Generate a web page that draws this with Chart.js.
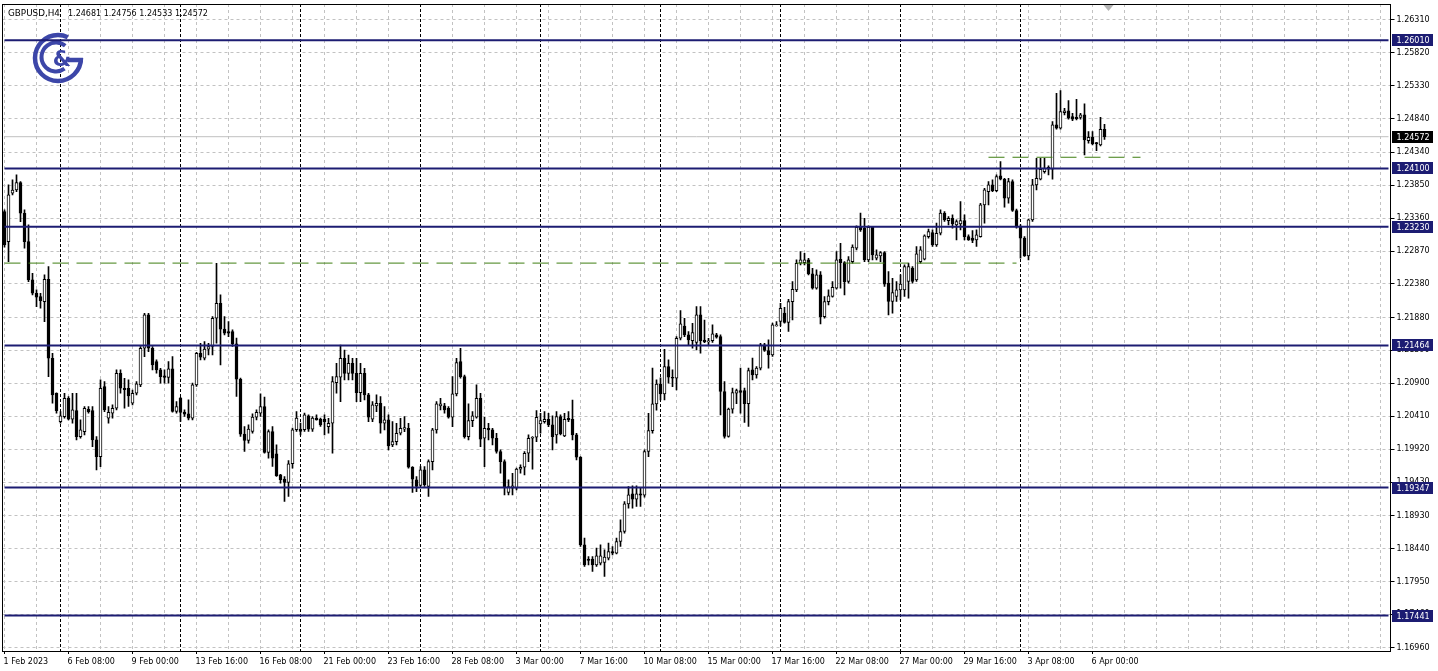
<!DOCTYPE html>
<html>
<head>
<meta charset="utf-8">
<script src="https://cdn.jsdelivr.net/npm/chart.js@4.4.0/dist/chart.umd.min.js"></script>
<style>
html,body{margin:0;padding:0;background:#ffffff;}
#c{display:block;}
</style>
</head>
<body>
<canvas id="c" width="1438" height="671" style="width:1438px;height:671px"></canvas>
<script>
// ---------------- DATA ----------------
const symbolTitle = 'GBPUSD,H4';

const openP = [
1.23457,1.23010,1.23730,1.23779,1.23889,1.23432,1.23010,1.22440,1.22241,1.22192,
1.22117,1.22450,1.21273,1.20752,1.20330,1.20404,1.20677,1.20365,1.20494,1.20107,
1.20181,1.20514,1.20494,1.20057,1.19809,1.20851,1.20380,1.20454,1.20529,1.21050,
1.20826,1.20826,1.20603,1.20752,1.20876,1.21422,1.21918,1.21422,1.21223,1.21099,
1.21011,1.20986,1.21115,1.20480,1.20679,1.20470,1.20446,1.20381,1.20877,1.21348,
1.21274,1.21408,1.21448,1.21869,1.22092,1.21706,1.21671,1.21671,1.21487,1.20961,
1.20143,1.20049,1.20183,1.20396,1.20456,1.20555,1.19870,1.20183,1.19850,1.19538,
1.19474,1.19424,1.19702,1.20208,1.20217,1.20208,1.20416,1.20217,1.20381,1.20366,
1.20366,1.20256,1.20305,1.20910,1.20990,1.21272,1.21049,1.21198,1.21049,1.20762,
1.21049,1.20727,1.20365,1.20563,1.20603,1.20305,1.20355,1.19983,1.20032,1.20156,
1.20216,1.20231,1.19650,1.19462,1.19380,1.19611,1.19363,1.19735,1.20206,1.20563,
1.20563,1.20528,1.20394,1.20742,1.21223,1.21000,1.20107,1.20345,1.20394,1.20677,
1.20082,1.20231,1.20206,1.20082,1.19884,1.19735,1.19274,1.19338,1.19338,1.19621,
1.19650,1.19859,1.20082,1.20097,1.20295,1.20330,1.20365,1.20280,1.20132,1.20404,
1.20117,1.20380,1.20365,1.20132,1.19799,1.18495,1.18282,1.18282,1.18197,1.18222,
1.18232,1.18296,1.18396,1.18371,1.18544,1.18693,1.19105,1.19254,1.19174,1.19254,
1.19234,1.19884,1.20196,1.20593,1.20890,1.20741,1.21148,1.20990,1.20975,1.21571,
1.21754,1.21620,1.21534,1.21510,1.21918,1.21545,1.21515,1.21534,1.21621,1.21596,
1.20778,1.20108,1.20515,1.20753,1.20793,1.20793,1.20595,1.21100,1.21026,1.21125,
1.21472,1.21388,1.21324,1.21755,1.21820,1.21944,1.21805,1.22117,1.22291,1.22688,
1.22698,1.22737,1.22529,1.22316,1.22514,1.21894,1.22117,1.22192,1.22316,1.22747,
1.22698,1.22416,1.22713,1.22912,1.23224,1.23209,1.22738,1.23224,1.22763,1.22798,
1.22847,1.22391,1.22118,1.22193,1.22292,1.22292,1.22416,1.22614,1.22441,1.22713,
1.22748,1.23085,1.23145,1.22961,1.23135,1.23433,1.23323,1.23358,1.23259,1.23274,
1.23323,1.23085,1.23061,1.23036,1.23085,1.23557,1.23755,1.23855,1.23770,1.23989,
1.23939,1.23656,1.23904,1.23473,1.23235,1.23061,1.22798,1.23334,1.23855,1.23939,
1.24053,1.24117,1.24088,1.24747,1.24698,1.24931,1.24956,1.24871,1.24861,1.24861,
1.24896,1.24514,1.24564,1.24484,1.24450,1.24681
];
const highP = [
1.23482,1.23854,1.23928,1.24003,1.23904,1.23482,1.23258,1.22539,1.22291,1.22241,
1.22515,1.22638,1.21348,1.20760,1.20479,1.20752,1.20702,1.20752,1.20752,1.20355,
1.20554,1.20554,1.20554,1.20107,1.20950,1.20926,1.20554,1.20578,1.21099,1.21099,
1.20975,1.20950,1.20801,1.20926,1.21447,1.21943,1.21943,1.21447,1.21248,1.21124,
1.21100,1.21224,1.21299,1.20629,1.20690,1.20505,1.20654,1.20902,1.21360,1.21497,
1.21522,1.21497,1.21894,1.22688,1.22216,1.21894,1.21820,1.21696,1.21572,1.20976,
1.20257,1.20282,1.20446,1.20505,1.20743,1.20694,1.20208,1.20257,1.19984,1.19545,
1.19513,1.19751,1.20232,1.20480,1.20307,1.20456,1.20431,1.20406,1.20431,1.20381,
1.20431,1.20380,1.21000,1.21198,1.21471,1.21396,1.21322,1.21272,1.21272,1.21198,
1.21124,1.20752,1.20628,1.20727,1.20702,1.20553,1.20429,1.20330,1.20305,1.20380,
1.20404,1.20305,1.19660,1.19512,1.19660,1.19660,1.19760,1.20231,1.20628,1.20677,
1.20603,1.20553,1.21000,1.21272,1.21421,1.21024,1.20593,1.20479,1.20876,1.20752,
1.20394,1.20305,1.20231,1.20156,1.19908,1.19760,1.19462,1.19561,1.19636,1.19685,
1.19884,1.20132,1.20107,1.20494,1.20454,1.20479,1.20454,1.20414,1.20479,1.20429,
1.20454,1.20479,1.20652,1.20156,1.19809,1.18594,1.18321,1.18321,1.18445,1.18495,
1.18420,1.18520,1.18470,1.18594,1.18867,1.19140,1.19363,1.19373,1.19373,1.19338,
1.19908,1.20454,1.21128,1.20950,1.20980,1.21407,1.21248,1.21099,1.21595,1.21982,
1.21868,1.21669,1.21794,1.22041,1.22041,1.21843,1.21571,1.21769,1.21646,1.21621,
1.20927,1.20530,1.20828,1.20813,1.21125,1.20828,1.21125,1.21274,1.21150,1.21497,
1.21497,1.21547,1.21795,1.21820,1.22092,1.22033,1.22152,1.22415,1.22737,1.22862,
1.22836,1.22762,1.22613,1.22588,1.22564,1.22192,1.22291,1.22415,1.22862,1.22985,
1.22712,1.22788,1.22961,1.23244,1.23433,1.23358,1.23244,1.23234,1.22887,1.22862,
1.22862,1.22565,1.22465,1.22416,1.22515,1.22664,1.22689,1.22639,1.22937,1.22937,
1.23110,1.23195,1.23185,1.23284,1.23482,1.23457,1.23383,1.23408,1.23333,1.23606,
1.23408,1.23110,1.23175,1.23185,1.23581,1.23805,1.23904,1.23930,1.24003,1.24200,
1.23954,1.23954,1.23929,1.23493,1.23259,1.23086,1.23344,1.23939,1.24251,1.24251,
1.24251,1.24137,1.24797,1.25219,1.25258,1.24995,1.25109,1.24921,1.25129,1.24921,
1.25060,1.24648,1.24648,1.24490,1.24861,1.24756
];
const lowP = [
1.22926,1.22713,1.23705,1.23755,1.23308,1.22911,1.22415,1.22216,1.22043,1.22018,
1.21819,1.21000,1.20603,1.20454,1.20305,1.20380,1.20355,1.20305,1.20057,1.20082,
1.20132,1.20454,1.19958,1.19610,1.19660,1.20479,1.20305,1.20380,1.20504,1.20752,
1.20529,1.20554,1.20578,1.20727,1.20851,1.21298,1.21372,1.21099,1.21050,1.20901,
1.20902,1.20902,1.20470,1.20456,1.20332,1.20406,1.20356,1.20356,1.20852,1.21249,
1.21249,1.21324,1.21324,1.21497,1.21175,1.21621,1.21596,1.21448,1.20704,1.20108,
1.19885,1.20009,1.20158,1.20356,1.20406,1.19860,1.19786,1.19662,1.19513,1.19414,
1.19141,1.19216,1.19637,1.20183,1.20133,1.20183,1.20183,1.20183,1.20350,1.20257,
1.20133,1.20156,1.19859,1.20752,1.20628,1.20950,1.20950,1.20950,1.20628,1.20628,
1.20652,1.20330,1.20330,1.20479,1.20156,1.20206,1.19908,1.19958,1.19983,1.20132,
1.20181,1.19636,1.19274,1.19288,1.19363,1.19363,1.19214,1.19611,1.20156,1.20504,
1.20454,1.20380,1.20256,1.20712,1.20975,1.20082,1.20057,1.20256,1.20380,1.19958,
1.19660,1.20057,1.19983,1.19859,1.19561,1.19239,1.19239,1.19239,1.19313,1.19561,
1.19536,1.19735,1.19621,1.20032,1.20156,1.20305,1.20256,1.19908,1.20008,1.20132,
1.20107,1.20330,1.20057,1.19760,1.18470,1.18172,1.18197,1.18098,1.18172,1.18197,
1.18024,1.18272,1.18346,1.18361,1.18470,1.18668,1.19040,1.19040,1.19065,1.19065,
1.19204,1.19809,1.20156,1.20500,1.20652,1.20652,1.20901,1.20850,1.20801,1.21545,
1.21595,1.21471,1.21422,1.21397,1.21347,1.21505,1.21471,1.21510,1.21572,1.20431,
1.20084,1.20098,1.20456,1.20595,1.20456,1.20317,1.20257,1.20952,1.20976,1.21100,
1.21373,1.21125,1.21299,1.21750,1.21755,1.21795,1.21671,1.21844,1.22266,1.22663,
1.22663,1.22514,1.22301,1.22301,1.21785,1.21869,1.22068,1.22182,1.22301,1.22316,
1.22216,1.22391,1.22689,1.22887,1.23160,1.22713,1.22713,1.22738,1.22738,1.22713,
1.22341,1.21920,1.21945,1.22118,1.22143,1.22193,1.22168,1.22391,1.22416,1.22689,
1.22738,1.23061,1.22937,1.22937,1.23110,1.23309,1.23259,1.23209,1.23036,1.23185,
1.23036,1.23026,1.22996,1.22937,1.23075,1.23284,1.23557,1.23755,1.23755,1.23929,
1.23522,1.23582,1.23458,1.23210,1.22763,1.22788,1.22739,1.23309,1.23780,1.23929,
1.24028,1.24003,1.23939,1.24683,1.24683,1.24896,1.24832,1.24812,1.24822,1.24832,
1.24301,1.24475,1.24450,1.24365,1.24435,1.24533
];
const closeP = [
1.22961,1.23705,1.23779,1.23889,1.23432,1.23010,1.22440,1.22241,1.22182,1.22132,
1.22450,1.21273,1.20727,1.20494,1.20414,1.20677,1.20365,1.20504,1.20107,1.20206,
1.20529,1.20479,1.20057,1.19809,1.20826,1.20504,1.20469,1.20529,1.21050,1.20826,
1.20806,1.20712,1.20752,1.20891,1.21422,1.21918,1.21422,1.21174,1.21099,1.21000,
1.20986,1.21115,1.20480,1.20555,1.20466,1.20441,1.20381,1.20877,1.21348,1.21289,
1.21408,1.21448,1.21869,1.22092,1.21706,1.21646,1.21646,1.21487,1.20961,1.20143,
1.20049,1.20217,1.20396,1.20466,1.20555,1.19870,1.20183,1.19786,1.19523,1.19464,
1.19424,1.19702,1.20208,1.20381,1.20183,1.20431,1.20217,1.20381,1.20356,1.20282,
1.20327,1.20305,1.20925,1.21000,1.21272,1.21049,1.21198,1.21049,1.20762,1.21049,
1.20727,1.20394,1.20578,1.20603,1.20305,1.20355,1.19968,1.20032,1.20156,1.20231,
1.20240,1.19650,1.19472,1.19363,1.19611,1.19390,1.19735,1.20206,1.20593,1.20593,
1.20504,1.20394,1.20742,1.21208,1.21000,1.20107,1.20345,1.20414,1.20677,1.20067,
1.20231,1.20206,1.20082,1.19884,1.19735,1.19350,1.19363,1.19373,1.19621,1.19650,
1.19859,1.20082,1.20097,1.20394,1.20345,1.20365,1.20280,1.20107,1.20404,1.20146,
1.20365,1.20355,1.20132,1.19799,1.18495,1.18197,1.18262,1.18197,1.18331,1.18331,
1.18311,1.18396,1.18371,1.18544,1.18693,1.19105,1.19239,1.19174,1.19254,1.19234,
1.19884,1.20196,1.20593,1.20890,1.20741,1.21148,1.20990,1.20975,1.21571,1.21784,
1.21620,1.21545,1.21654,1.21918,1.21534,1.21515,1.21534,1.21635,1.21586,1.20778,
1.20108,1.20515,1.20763,1.20793,1.20763,1.20595,1.21090,1.21026,1.21125,1.21472,
1.21388,1.21324,1.21770,1.21770,1.22018,1.21805,1.22117,1.22301,1.22688,1.22737,
1.22737,1.22529,1.22316,1.22514,1.21894,1.22117,1.22202,1.22331,1.22737,1.22698,
1.22415,1.22738,1.22927,1.23224,1.23185,1.22738,1.23224,1.22813,1.22813,1.22847,
1.22376,1.22118,1.22252,1.22292,1.22376,1.22639,1.22639,1.22416,1.22828,1.22887,
1.23095,1.23160,1.22961,1.23135,1.23433,1.23333,1.23358,1.23274,1.23309,1.23323,
1.23085,1.23036,1.23026,1.23110,1.23557,1.23780,1.23854,1.23770,1.23979,1.23939,
1.23656,1.23904,1.23473,1.23235,1.23061,1.22798,1.23334,1.23855,1.23954,1.24088,
1.24103,1.24088,1.24747,1.24698,1.24946,1.24956,1.24847,1.24832,1.24842,1.24896,
1.24524,1.24564,1.24465,1.24465,1.24683,1.24572
];

// horizontal support / resistance levels
const levels = [1.26010, 1.24100, 1.23230, 1.21464, 1.19347, 1.17441];
// dashed green trend markers: start bar, end bar, price
const greenLongLine = {from: '1 Feb 16:00', to: '31 Mar 20:00', value: 1.22690};
const greenShortLine = {from: '30 Mar 16:00', to: '10 Apr 00:00', value: 1.24266};

// price axis ticks
const yTickValues = [1.26310,1.25820,1.25330,1.24840,1.24340,1.23850,1.23360,1.22870,1.22380,1.21880,
                     1.21390,1.20900,1.20410,1.19920,1.19430,1.18930,1.18440,1.17950,1.17460,1.16960];
// time axis labels
const xTickLabels = ['1 Feb 2023','6 Feb 08:00','9 Feb 00:00','13 Feb 16:00','16 Feb 08:00','21 Feb 00:00',
  '23 Feb 16:00','28 Feb 08:00','3 Mar 00:00','7 Mar 16:00','10 Mar 08:00','15 Mar 00:00','17 Mar 16:00',
  '22 Mar 08:00','27 Mar 00:00','29 Mar 16:00','3 Apr 08:00','6 Apr 00:00'];

// H4 bar time slots (trading days only), incl. empty right margin
const firstBarTime = Date.UTC(2023, 1, 1, 16);
const slotCount = 347;
const MONTHS = ['Jan','Feb','Mar','Apr','May','Jun','Jul','Aug','Sep','Oct','Nov','Dec'];
const categories = [];
const slotTimes = [];
for (let t = firstBarTime; categories.length < slotCount; t += 4 * 3600e3) {
  const d = new Date(t);
  const wd = d.getUTCDay();
  if (wd === 0 || wd === 6) continue;
  slotTimes.push(d);
  categories.push(d.getUTCDate() + ' ' + MONTHS[d.getUTCMonth()] + ' ' + String(d.getUTCHours()).padStart(2, '0') + ':00');
}

// ---------------- STYLE ----------------
const FONT = "'DejaVu Sans', Verdana, sans-serif";
const NAVY = '#1c1c72';
const GRID = '#c2c2c2';
const GREEN = '#3f7f12';
const lastBar = openP.length - 1;
const labelSet = new Set(xTickLabels);

function isSeparator(i) {
  if (i === undefined || i > lastBar) return false;
  const d = slotTimes[i];
  return d.getUTCDay() === 1 && d.getUTCHours() === 0;
}
function xGridColor(c) {
  const i = c.index;
  if (i === undefined) return 'rgba(0,0,0,0)';
  if (isSeparator(i)) return '#000000';
  if (i % 8 === 0) return GRID;
  return 'rgba(0,0,0,0)';
}
function xTickText(i) {
  if (i === 0) return xTickLabels[0];
  return labelSet.has(categories[i]) ? categories[i] : '';
}
function xTickColor(c) {
  const i = c.index;
  if (i === undefined) return 'rgba(0,0,0,0)';
  return xTickText(i) ? '#000000' : 'rgba(0,0,0,0)';
}

const bodies = openP.map((o, i) => [o, closeP[i]]);
const wicks = lowP.map((l, i) => [l, highP[i]]);
const isBull = i => closeP[i] >= openP[i];

const yMax = 1.26548;
const yMin = 1.16914;

const segment = (a, b, v) => [{x: a, y: v}, {x: b, y: v}];
const firstCat = categories[0];
const lastCat = categories[categories.length - 1];

const datasets = [];
levels.forEach(v => datasets.push({
  type: 'line', data: segment(firstCat, lastCat, v), borderColor: NAVY, borderWidth: 2,
  pointRadius: 0, order: 1
}));
datasets.push({
  type: 'line', data: segment(greenLongLine.from, greenLongLine.to, greenLongLine.value),
  borderColor: GREEN, borderWidth: 1, borderDash: [16, 8], pointRadius: 0, order: 2
});
datasets.push({
  type: 'line', data: segment(greenShortLine.from, greenShortLine.to, greenShortLine.value),
  borderColor: GREEN, borderWidth: 1, borderDash: [16, 8], pointRadius: 0, order: 2
});
datasets.push({
  type: 'line', data: segment(firstCat, lastCat, closeP[lastBar]),
  borderColor: '#c0c0c0', borderWidth: 1, pointRadius: 0, order: 9
});
datasets.push({
  type: 'bar', data: bodies, grouped: false, barThickness: 3, minBarLength: 1,
  backgroundColor: c => isBull(c.dataIndex) ? '#ffffff' : '#000000',
  borderColor: '#000000', borderWidth: 1, borderSkipped: false, order: 5
});
datasets.push({
  type: 'bar', data: wicks, grouped: false, barThickness: 1,
  backgroundColor: '#000000', borderWidth: 0, order: 6
});

const decor = {
  id: 'mt4decor',
  beforeDatasetsDraw(chart) {
    const ctx = chart.ctx;
    // logo
    ctx.save();
    ctx.strokeStyle = '#3c46a8';
    ctx.fillStyle = '#3c46a8';
    ctx.lineWidth = 4.5;
    ctx.beginPath();
    ctx.arc(58, 58, 23, 0, 1.64 * Math.PI, false);
    ctx.stroke();
    ctx.beginPath();
    ctx.moveTo(83, 60);
    ctx.lineTo(68, 60);
    ctx.stroke();
    ctx.lineWidth = 4;
    ctx.beginPath();
    ctx.arc(56, 57, 14.5, 0.3 * Math.PI, 1.72 * Math.PI, false);
    ctx.stroke();
    ctx.font = "bold 21px 'DejaVu Sans'";
    ctx.textAlign = 'center';
    ctx.textBaseline = 'middle';
    ctx.fillText('&', 62, 61);
    ctx.restore();
    // header
    ctx.save();
    ctx.fillStyle = '#000';
    ctx.textBaseline = 'alphabetic';
    ctx.textAlign = 'left';
    ctx.font = "8.8px " + FONT;
    ctx.fillText(symbolTitle, 8, 16);
    ctx.font = "8px " + FONT;
    ctx.fillText([openP[lastBar], highP[lastBar], lowP[lastBar], closeP[lastBar]].map(v => v.toFixed(5)).join(' '), 68, 16);
    ctx.restore();
  },
  afterDraw(chart) {
    const ctx = chart.ctx;
    const a = chart.chartArea;
    const y = chart.scales.y;
    const x = chart.scales.x;
    ctx.save();
    // frame
    ctx.strokeStyle = '#000';
    ctx.lineWidth = 1;
    ctx.strokeRect(Math.floor(a.left) + 0.5, Math.floor(a.top) + 0.5, Math.round(a.right - a.left), Math.round(a.bottom - a.top));
    // chart shift marker
    const sx = x.getPixelForValue(lastBar + 1);
    ctx.fillStyle = '#b4b4b4';
    ctx.beginPath();
    ctx.moveTo(sx - 5, a.top + 1);
    ctx.lineTo(sx + 5, a.top + 1);
    ctx.lineTo(sx, a.top + 7);
    ctx.closePath();
    ctx.fill();
    // level price boxes
    ctx.font = "8px " + FONT;
    ctx.textBaseline = 'middle';
    ctx.textAlign = 'left';
    const box = (v, fill) => {
      const py = Math.round(y.getPixelForValue(v));
      ctx.fillStyle = fill;
      ctx.fillRect(a.right + 1.5, py - 6, 41, 12);
      ctx.fillStyle = '#ffffff';
      ctx.fillText(v.toFixed(5), a.right + 6, py + 0.5);
    };
    levels.forEach(v => box(v, NAVY));
    box(closeP[lastBar], '#000000');
    ctx.restore();
  }
};

Chart.defaults.font.family = FONT;
Chart.defaults.font.size = 8;
Chart.defaults.color = '#000';

new Chart(document.getElementById('c'), {
  type: 'bar',
  data: {labels: categories, datasets},
  options: {
    responsive: false,
    animation: false,
    devicePixelRatio: 1,
    layout: {autoPadding: false, padding: {left: 2.5, top: 4, right: 0, bottom: 0}},
    plugins: {legend: {display: false}, tooltip: {enabled: false}},
    scales: {
      x: {
        type: 'category',
        offset: true,
        grid: {
          offset: false, drawOnChartArea: true, drawTicks: true, tickLength: 3,
          color: xGridColor, lineWidth: 1, tickColor: xTickColor, tickWidth: 1
        },
        border: {display: true, color: '#000', width: 1,
          dash: c => (c.index !== undefined && isSeparator(c.index)) ? [3, 2] : [3, 3]},
        ticks: {
          autoSkip: false, maxRotation: 0, minRotation: 0, align: 'start', labelOffset: -1,
          padding: 3, color: '#000', font: {family: FONT, size: 8},
          callback: (v, i) => xTickText(i)
        },
        afterFit: s => { s.height = 20; s.paddingLeft = 0; s.paddingRight = 0; }
      },
      y: {
        type: 'linear',
        position: 'right',
        min: yMin,
        max: yMax,
        afterBuildTicks: s => { s.ticks = yTickValues.map(v => ({value: v})); },
        grid: {color: GRID, lineWidth: 1, tickColor: '#000', tickLength: 4, drawTicks: true},
        border: {display: true, color: '#000', width: 1, dash: [3, 3]},
        ticks: {padding: 2, color: '#000', font: {family: FONT, size: 8}, callback: v => v.toFixed(5)},
        afterFit: s => { s.width = 47.5; s.paddingTop = 0; s.paddingBottom = 0; }
      }
    }
  },
  plugins: [decor]
});
</script>
</body>
</html>
